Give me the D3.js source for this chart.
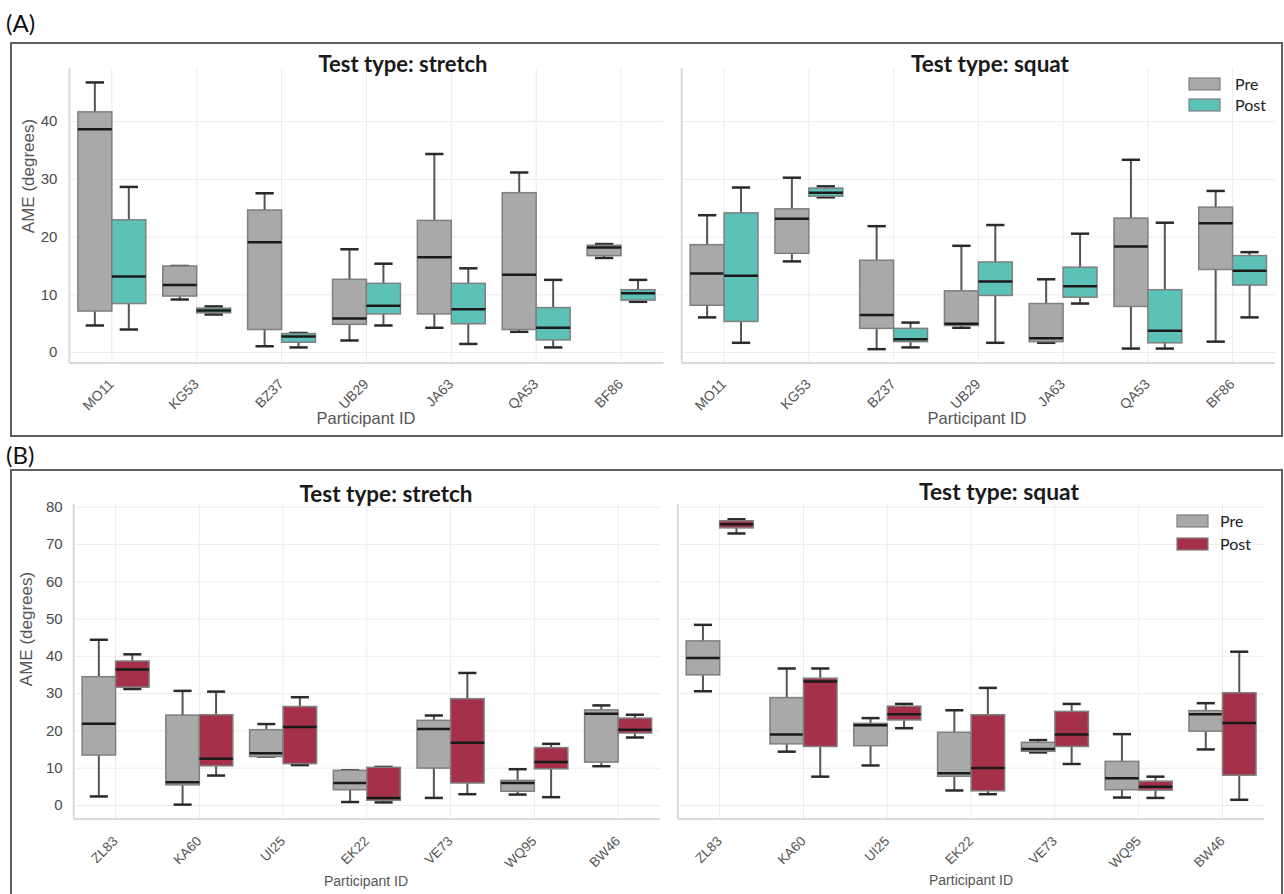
<!DOCTYPE html>
<html>
<head>
<meta charset="utf-8">
<script src="https://cdn.jsdelivr.net/npm/d3@7"></script>
<style>
  html, body { margin: 0; padding: 0; background: #fff; }
  svg { display: block; }
</style>
</head>
<body>
<svg id="chart" width="1284" height="894"></svg>
<script>
// ---------- DATA (five-number summaries: [low, q1, median, q3, high]) ----------
const participantsA = ["MO11", "KG53", "BZ37", "UB29", "JA63", "QA53", "BF86"];
const participantsB = ["ZL83", "KA60", "UI25", "EK22", "VE73", "WQ95", "BW46"];
const groups = ["Pre", "Post"];
const yTicksA = [0, 10, 20, 30, 40];
const yTicksB = [0, 10, 20, 30, 40, 50, 60, 70, 80];

const aStretchPre = [
  [4.6, 7.1, 38.6, 41.6, 46.7], [9.1, 9.7, 11.6, 14.9, 14.9], [1.0, 3.9, 19.0, 24.6, 27.5],
  [2.0, 4.8, 5.8, 12.6, 17.8], [4.2, 6.6, 16.4, 22.8, 34.3], [3.5, 3.9, 13.4, 27.6, 31.1],
  [16.3, 16.7, 18.1, 18.5, 18.7]
];
const aStretchPost = [
  [3.9, 8.4, 13.1, 22.9, 28.6], [6.5, 6.8, 7.2, 7.6, 7.9], [0.8, 1.7, 2.7, 3.2, 3.3],
  [4.6, 6.6, 8.0, 11.9, 15.3], [1.4, 4.9, 7.4, 11.9, 14.5], [0.8, 2.1, 4.2, 7.7, 12.5],
  [8.7, 9.0, 10.2, 10.8, 12.5]
];
const aSquatPre = [
  [6.0, 8.1, 13.6, 18.6, 23.7], [15.7, 17.1, 23.1, 24.8, 30.2], [0.5, 4.1, 6.4, 15.9, 21.8],
  [4.2, 4.6, 4.9, 10.6, 18.4], [1.6, 1.8, 2.4, 8.4, 12.6], [0.6, 7.9, 18.3, 23.2, 33.3],
  [1.8, 14.3, 22.3, 25.1, 27.9]
];
const aSquatPost = [
  [1.6, 5.3, 13.2, 24.1, 28.5], [26.8, 27.0, 27.6, 28.4, 28.7], [0.8, 1.8, 2.2, 4.1, 5.1],
  [1.6, 9.8, 12.2, 15.6, 22.0], [8.4, 9.5, 11.4, 14.7, 20.5], [0.6, 1.6, 3.7, 10.8, 22.4],
  [6.0, 11.6, 14.1, 16.7, 17.3]
];
const bStretchPre = [
  [2.3, 13.4, 21.8, 34.4, 44.3], [0.1, 5.4, 6.1, 24.1, 30.6], [13.0, 13.0, 13.9, 20.2, 21.7],
  [0.8, 4.1, 5.9, 9.3, 9.3], [1.9, 9.9, 20.4, 22.7, 24.0], [2.8, 3.7, 5.9, 6.6, 9.6],
  [10.4, 11.5, 24.5, 25.5, 26.7]
];
const bStretchPost = [
  [31.1, 31.6, 36.3, 38.6, 40.4], [7.9, 10.5, 12.4, 24.2, 30.4], [10.7, 11.1, 20.9, 26.4, 28.9],
  [0.7, 1.3, 1.9, 10.1, 10.2], [2.9, 5.9, 16.7, 28.5, 35.4], [2.1, 9.7, 11.5, 15.4, 16.4],
  [18.1, 19.3, 20.2, 23.3, 24.2]
];
const bSquatPre = [
  [30.5, 34.9, 39.4, 44.0, 48.3], [14.3, 16.4, 18.9, 28.8, 36.6], [10.6, 15.9, 21.4, 21.9, 23.3],
  [3.9, 7.7, 8.5, 19.5, 25.4], [14.1, 14.4, 15.0, 16.8, 17.4], [2.0, 4.1, 7.2, 11.7, 19.0],
  [14.9, 19.8, 24.3, 25.3, 27.3]
];
const bSquatPost = [
  [72.8, 74.3, 75.3, 76.2, 76.6], [7.6, 15.7, 33.1, 34.0, 36.6], [20.6, 22.8, 24.3, 26.5, 27.1],
  [2.9, 3.8, 9.9, 24.2, 31.4], [11.0, 15.7, 18.9, 25.1, 27.1], [1.9, 4.0, 4.9, 6.4, 7.6],
  [1.4, 8.0, 22.0, 30.1, 41.1]
];

// ---------- STYLE ----------
const preColor = "#a9a9a9";
const postColorA = "#5cc2b8";
const postColorB = "#a5304a";
const boxStroke = "#7f7f7f";
const gridColor = "#ececec";
const spineColor = "#dadada";
const tickFont = "'Liberation Sans', Arial, sans-serif";
const titleFont = "Lato, 'Open Sans', sans-serif";

const svg = d3.select("#chart");

// panel frames
svg.append("rect").attr("x", 11).attr("y", 43).attr("width", 1271).attr("height", 393)
  .attr("fill", "none").attr("stroke", "#5e5e5e").attr("stroke-width", 2);
svg.append("rect").attr("x", 11).attr("y", 470).attr("width", 1271).attr("height", 440)
  .attr("fill", "none").attr("stroke", "#5e5e5e").attr("stroke-width", 2);

svg.append("text").attr("x", 6).attr("y", 32).text("(A)")
  .attr("font-family", titleFont).attr("font-size", 24).attr("fill", "#111");
svg.append("text").attr("x", 6).attr("y", 464).text("(B)")
  .attr("font-family", titleFont).attr("font-size", 24).attr("fill", "#111");

function drawPlot(cfg) {
  const g = svg.append("g");
  const x = d3.scaleBand().domain(cfg.cats).range([cfg.x0, cfg.x1]).paddingInner(0).paddingOuter(0);
  const y = d3.scaleLinear().domain(cfg.yDomain).range([cfg.yb, cfg.yt]);
  const bw = x.bandwidth() * 0.4;

  // horizontal grid
  g.append("g").attr("transform", `translate(${cfg.x0},0)`)
    .call(d3.axisLeft(y).tickValues(cfg.ticks).tickSize(-(cfg.x1 - cfg.x0)).tickFormat(""))
    .call(s => s.select(".domain").remove())
    .call(s => s.selectAll("line").attr("stroke", gridColor).attr("stroke-width", 1));
  // vertical grid
  g.append("g").attr("transform", `translate(${-x.bandwidth() / 2},${cfg.yb})`)
    .call(d3.axisBottom(x).tickSize(-(cfg.yb - cfg.yt)).tickFormat(""))
    .call(s => s.select(".domain").remove())
    .call(s => s.selectAll("line").attr("transform", `translate(${x.bandwidth() / 2},0)`)
      .attr("stroke", gridColor).attr("stroke-width", 1));

  // spines
  g.append("line").attr("x1", cfg.x0).attr("x2", cfg.x0).attr("y1", cfg.yt).attr("y2", cfg.yb)
    .attr("stroke", spineColor).attr("stroke-width", 2);
  g.append("line").attr("x1", cfg.x0).attr("x2", cfg.x1).attr("y1", cfg.yb).attr("y2", cfg.yb)
    .attr("stroke", spineColor).attr("stroke-width", 2);

  // y tick labels
  if (cfg.showY) {
    g.append("g").attr("transform", `translate(${cfg.x0},0)`)
      .call(d3.axisLeft(y).tickValues(cfg.ticks).tickSize(0).tickPadding(cfg.yPad))
      .call(s => s.select(".domain").remove())
      .call(s => s.selectAll("text").attr("font-family", tickFont).attr("font-size", 15)
        .attr("fill", "#4a4a4a"));
    g.append("text")
      .attr("transform", `translate(${cfg.yLabelX},${cfg.yLabelY}) rotate(-90)`)
      .attr("text-anchor", "middle").attr("dy", "0.35em")
      .attr("font-family", tickFont).attr("font-size", 17).attr("fill", "#555")
      .text("AME (degrees)");
  }

  // x tick labels
  g.append("g").attr("transform", `translate(0,${cfg.yb})`)
    .call(d3.axisBottom(x).tickSize(0))
    .call(s => s.select(".domain").remove())
    .call(s => s.selectAll("text")
      .attr("x", 0).attr("y", 0).attr("dy", null)
      .attr("text-anchor", "end")
      .attr("transform", `translate(3,${cfg.xLabOff}) rotate(-45)`)
      .attr("font-family", tickFont).attr("font-size", cfg.xFont).attr("fill", "#555"));

  // x axis title
  g.append("text").attr("x", cfg.xTitleX).attr("y", cfg.xTitleY).attr("text-anchor", "middle")
    .attr("font-family", tickFont).attr("font-size", cfg.xTitleSize).attr("fill", "#555")
    .text("Participant ID");

  // title
  g.append("text").attr("x", cfg.titleX).attr("y", cfg.titleY).attr("text-anchor", "middle")
    .attr("font-family", titleFont).attr("font-weight", 700).attr("font-size", 22)
    .attr("textLength", cfg.titleW).attr("lengthAdjust", "spacingAndGlyphs")
    .attr("fill", "#1a1a1a").text(cfg.title);

  // boxes
  const series = [
    { name: "Pre", data: cfg.pre, color: preColor, off: -1 },
    { name: "Post", data: cfg.post, color: cfg.postColor, off: 0 }
  ];
  series.forEach(sr => {
    sr.data.forEach((d, i) => {
      const cx = x(cfg.cats[i]) + x.bandwidth() / 2;
      const left = cx + sr.off * bw;
      const mid = left + bw / 2;
      const bg = g.append("g");
      // whiskers
      bg.append("line").attr("x1", mid).attr("x2", mid).attr("y1", y(d[4])).attr("y2", y(d[3]))
        .attr("stroke", "#555").attr("stroke-width", 2);
      bg.append("line").attr("x1", mid).attr("x2", mid).attr("y1", y(d[1])).attr("y2", y(d[0]))
        .attr("stroke", "#555").attr("stroke-width", 2);
      // caps
      [d[0], d[4]].forEach(v => {
        bg.append("line").attr("x1", mid - bw * 0.27).attr("x2", mid + bw * 0.27)
          .attr("y1", y(v)).attr("y2", y(v))
          .attr("stroke", "#2a2a2a").attr("stroke-width", 2.5);
      });
      // box
      bg.append("rect").attr("x", left).attr("width", bw)
        .attr("y", y(d[3])).attr("height", Math.max(1, y(d[1]) - y(d[3])))
        .attr("fill", sr.color).attr("stroke", boxStroke).attr("stroke-width", 1.5);
      // median
      bg.append("line").attr("x1", left).attr("x2", left + bw)
        .attr("y1", y(d[2])).attr("y2", y(d[2]))
        .attr("stroke", "#1a1a1a").attr("stroke-width", 2.5);
    });
  });

  // legend
  if (cfg.legend) {
    const L = cfg.legend;
    groups.forEach((name, i) => {
      const yy = L.y + i * L.dy;
      g.append("rect").attr("x", L.x).attr("y", yy).attr("width", 31).attr("height", 12)
        .attr("fill", i === 0 ? preColor : cfg.postColor).attr("stroke", boxStroke).attr("stroke-width", 1.2);
      g.append("text").attr("x", L.tx).attr("y", yy + 6).attr("dy", "0.35em")
        .attr("font-family", titleFont).attr("font-size", 16).attr("fill", "#222").text(name);
    });
  }
}

const yDomA = [-1.9, 49.2];
const yDomB = [-3.75, 80.7];

drawPlot({ cats: participantsA, x0: 69.4, x1: 663.5, yb: 363, yt: 68, yDomain: yDomA, ticks: yTicksA,
  showY: true, yPad: 12, yLabelX: 28, yLabelY: 176, xLabOff: 22, xFont: 14,
  xTitleX: 366, xTitleY: 424, xTitleSize: 16.5, title: "Test type: stretch", titleX: 403, titleY: 72, titleW: 169,
  pre: aStretchPre, post: aStretchPost, postColor: postColorA });
drawPlot({ cats: participantsA, x0: 681.7, x1: 1275, yb: 363, yt: 68, yDomain: yDomA, ticks: yTicksA,
  showY: false, xLabOff: 22, xFont: 14,
  xTitleX: 977, xTitleY: 424, xTitleSize: 16.5, title: "Test type: squat", titleX: 990, titleY: 72, titleW: 158,
  pre: aSquatPre, post: aSquatPost, postColor: postColorA,
  legend: { x: 1189, y: 78, dy: 21, tx: 1235 } });
drawPlot({ cats: participantsB, x0: 73.7, x1: 660, yb: 819, yt: 504, yDomain: yDomB, ticks: yTicksB,
  showY: true, yPad: 11, yLabelX: 26, yLabelY: 629, xLabOff: 23, xFont: 13.5,
  xTitleX: 366, xTitleY: 886, xTitleSize: 14, title: "Test type: stretch", titleX: 386, titleY: 502, titleW: 173,
  pre: bStretchPre, post: bStretchPost, postColor: postColorB });
drawPlot({ cats: participantsB, x0: 677.8, x1: 1264.4, yb: 819, yt: 504, yDomain: yDomB, ticks: yTicksB,
  showY: false, xLabOff: 23, xFont: 13.5,
  xTitleX: 971, xTitleY: 885, xTitleSize: 14, title: "Test type: squat", titleX: 999, titleY: 500, titleW: 160,
  pre: bSquatPre, post: bSquatPost, postColor: postColorB,
  legend: { x: 1177, y: 515, dy: 23, tx: 1220 } });
</script>
</body>
</html>
